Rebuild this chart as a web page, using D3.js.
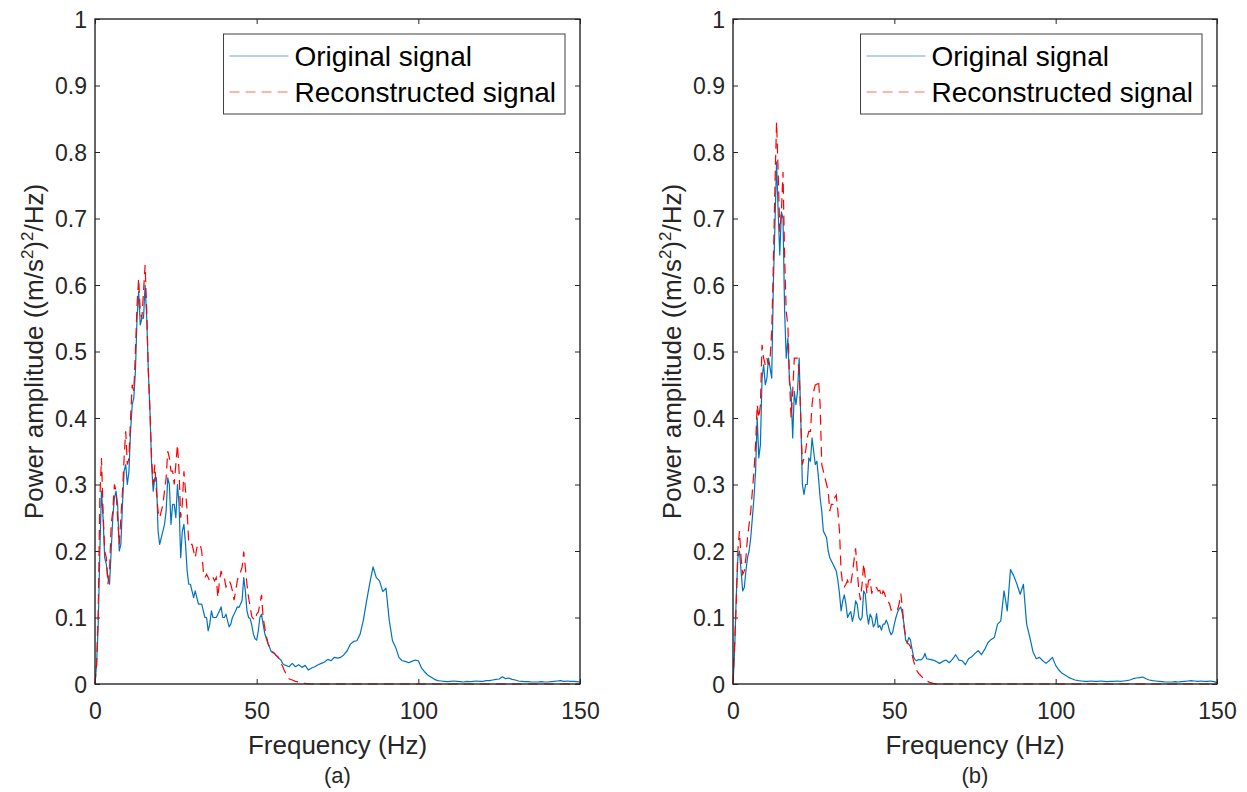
<!DOCTYPE html>
<html>
<head>
<meta charset="utf-8">
<script src="https://cdn.jsdelivr.net/npm/d3@7"></script>
<style>
  body { margin: 0; background: #fff; }
  text { font-family: "Liberation Sans", Arial, sans-serif; }
</style>
</head>
<body>
<div id="chart"></div>
<script>
// frequency bins (Hz): 0.5 Hz steps below 60 Hz, 1 Hz steps above
var freqLow = d3.range(0, 60, 0.5);
var freqHigh = d3.range(60, 151, 1);
var freq = freqLow.concat(freqHigh);

var xTicks = [0, 50, 100, 150];
var xTickLabels = ["0", "50", "100", "150"];
var yTicks = [0, 0.1, 0.2, 0.3, 0.4, 0.5, 0.6, 0.7, 0.8, 0.9, 1];
var yTickLabels = ["0", "0.1", "0.2", "0.3", "0.4", "0.5", "0.6", "0.7", "0.8", "0.9", "1"];
var seriesNames = ["Original signal", "Reconstructed signal"];

// panel (a)
var origA = [
  0, 0.03, 0.09, 0.20, 0.29, 0.25, 0.19, 0.18, 0.16, 0.15,
  0.20, 0.25, 0.28, 0.29, 0.27, 0.20, 0.21, 0.27, 0.32, 0.33,
  0.30, 0.32, 0.38, 0.42, 0.43, 0.47, 0.55, 0.59, 0.54, 0.55,
  0.55, 0.60, 0.55, 0.47, 0.41, 0.33, 0.29, 0.31, 0.31, 0.23,
  0.21, 0.22, 0.23, 0.24, 0.26, 0.31, 0.30, 0.24, 0.27, 0.27,
  0.25, 0.30, 0.27, 0.19, 0.23, 0.24, 0.21, 0.17, 0.15, 0.15,
  0.14, 0.13, 0.14, 0.13, 0.12, 0.12, 0.12, 0.11, 0.10, 0.10,
  0.08, 0.09, 0.11, 0.10, 0.10, 0.10, 0.105, 0.11, 0.116, 0.10,
  0.10, 0.105, 0.095, 0.086, 0.09, 0.10, 0.105, 0.11, 0.116, 0.115,
  0.12, 0.126, 0.16, 0.14, 0.11, 0.10, 0.098, 0.088, 0.075, 0.068,
  0.066, 0.08, 0.10, 0.105, 0.09, 0.076, 0.068, 0.061, 0.055, 0.049,
  0.047, 0.046, 0.043, 0.041, 0.038, 0.036, 0.031, 0.029, 0.028, 0.027,
  // 60 Hz ->
  0.026, 0.031, 0.026, 0.029, 0.025, 0.028, 0.021, 0.024, 0.026, 0.029,
  0.031, 0.033, 0.037, 0.035, 0.040, 0.039, 0.040, 0.044, 0.050, 0.060,
  0.064, 0.065, 0.075, 0.096, 0.125, 0.152, 0.176, 0.160, 0.155, 0.139,
  0.144, 0.096, 0.065, 0.055, 0.040, 0.035, 0.034, 0.032, 0.034, 0.036,
  0.035, 0.024, 0.018, 0.013, 0.010, 0.007, 0.005, 0.0045, 0.004, 0.0035,
  0.004, 0.0045, 0.004, 0.0035, 0.003, 0.004, 0.0035, 0.004, 0.0045, 0.004,
  0.004, 0.005, 0.005, 0.006, 0.007, 0.0075, 0.011, 0.008, 0.009, 0.007,
  0.006, 0.0045, 0.004, 0.0035, 0.0035, 0.003, 0.003, 0.003, 0.0035, 0.003,
  0.003, 0.0035, 0.004, 0.0045, 0.005, 0.004, 0.0045, 0.004, 0.004, 0.0035,
  0.003
];
var recA = [
  0, 0.03, 0.11, 0.28, 0.34, 0.26, 0.20, 0.19, 0.15, 0.17,
  0.24, 0.26, 0.30, 0.29, 0.25, 0.21, 0.25, 0.29, 0.34, 0.38,
  0.33, 0.34, 0.40, 0.45, 0.44, 0.50, 0.57, 0.61, 0.56, 0.55,
  0.59, 0.63, 0.56, 0.47, 0.41, 0.34, 0.30, 0.33, 0.29, 0.26,
  0.25, 0.26, 0.27, 0.29, 0.31, 0.35, 0.34, 0.32, 0.32, 0.30,
  0.33, 0.36, 0.32, 0.25, 0.27, 0.32, 0.29, 0.26, 0.21, 0.21,
  0.21, 0.20, 0.19, 0.205, 0.21, 0.21, 0.20, 0.17, 0.16, 0.165,
  0.16, 0.155, 0.16, 0.16, 0.155, 0.16, 0.13, 0.155, 0.17, 0.16,
  0.16, 0.146, 0.15, 0.155, 0.15, 0.14, 0.126, 0.14, 0.155, 0.165,
  0.168, 0.176, 0.199, 0.175, 0.15, 0.13, 0.116, 0.101, 0.098, 0.096,
  0.105, 0.108, 0.12, 0.134, 0.10, 0.085, 0.072, 0.061, 0.056, 0.051,
  0.048, 0.046, 0.043, 0.041, 0.036, 0.031, 0.027, 0.021, 0.016, 0.011,
  // 60 Hz ->
  0.008, 0.006, 0.004, 0.003, 0.0015, 0.0008, 0, 0, 0, 0,
  0, 0, 0, 0, 0, 0, 0, 0, 0, 0,
  0, 0, 0, 0, 0, 0, 0, 0, 0, 0,
  0, 0, 0, 0, 0, 0, 0, 0, 0, 0,
  0, 0, 0, 0, 0, 0, 0, 0, 0, 0,
  0, 0, 0, 0, 0, 0, 0, 0, 0, 0,
  0, 0, 0, 0, 0, 0, 0, 0, 0, 0,
  0, 0, 0, 0, 0, 0, 0, 0, 0, 0,
  0, 0, 0, 0, 0, 0, 0, 0, 0, 0,
  0
];

// panel (b)
var origB = [
  0, 0.05, 0.13, 0.19, 0.20, 0.17, 0.14, 0.145, 0.17, 0.19,
  0.20, 0.22, 0.25, 0.28, 0.32, 0.40, 0.34, 0.36, 0.46, 0.48,
  0.45, 0.46, 0.49, 0.475, 0.46, 0.60, 0.69, 0.785, 0.71, 0.645,
  0.71, 0.70, 0.56, 0.49, 0.52, 0.455, 0.44, 0.37, 0.44, 0.42,
  0.44, 0.49, 0.40, 0.30, 0.285, 0.30, 0.30, 0.34, 0.335, 0.37,
  0.35, 0.33, 0.335, 0.31, 0.28, 0.26, 0.23, 0.225, 0.22, 0.20,
  0.19, 0.185, 0.18, 0.175, 0.17, 0.156, 0.136, 0.11, 0.125, 0.134,
  0.12, 0.10, 0.105, 0.109, 0.094, 0.105, 0.125, 0.12, 0.10, 0.096,
  0.10, 0.14, 0.135, 0.106, 0.09, 0.105, 0.10, 0.086, 0.09, 0.106,
  0.085, 0.088, 0.081, 0.09, 0.09, 0.096, 0.09, 0.08, 0.074, 0.078,
  0.09, 0.10, 0.108, 0.113, 0.116, 0.106, 0.09, 0.066, 0.062, 0.07,
  0.066, 0.052, 0.04, 0.036, 0.035, 0.037, 0.036, 0.037, 0.04, 0.046,
  // 60 Hz ->
  0.038, 0.037, 0.036, 0.034, 0.031, 0.034, 0.036, 0.032, 0.037, 0.044,
  0.036, 0.035, 0.029, 0.038, 0.041, 0.046, 0.050, 0.044, 0.052, 0.062,
  0.067, 0.070, 0.090, 0.095, 0.140, 0.110, 0.172, 0.163, 0.150, 0.135,
  0.150, 0.090, 0.070, 0.048, 0.038, 0.040, 0.035, 0.031, 0.035, 0.040,
  0.028, 0.021, 0.016, 0.013, 0.010, 0.008, 0.006, 0.005, 0.0045, 0.004,
  0.004, 0.0045, 0.004, 0.004, 0.0045, 0.004, 0.0035, 0.004, 0.004, 0.0045,
  0.004, 0.0045, 0.005, 0.006, 0.008, 0.009, 0.0095, 0.0105, 0.008, 0.006,
  0.005, 0.0045, 0.004, 0.0035, 0.003, 0.003, 0.003, 0.0035, 0.003, 0.0035,
  0.004, 0.0045, 0.005, 0.0045, 0.004, 0.0045, 0.004, 0.004, 0.0045, 0.0035,
  0.002
];
var recB = [
  0, 0.06, 0.12, 0.20, 0.23, 0.19, 0.165, 0.17, 0.19, 0.22,
  0.24, 0.26, 0.29, 0.32, 0.36, 0.42, 0.40, 0.42, 0.51, 0.49,
  0.48, 0.49, 0.48, 0.49, 0.53, 0.63, 0.75, 0.845, 0.77, 0.68,
  0.71, 0.77, 0.64, 0.56, 0.54, 0.46, 0.40, 0.44, 0.49, 0.49,
  0.49, 0.47, 0.40, 0.33, 0.34, 0.35, 0.37, 0.38, 0.38, 0.42,
  0.44, 0.45, 0.45, 0.457, 0.42, 0.33, 0.32, 0.31, 0.30, 0.29,
  0.26, 0.27, 0.27, 0.28, 0.284, 0.26, 0.23, 0.17, 0.15, 0.146,
  0.15, 0.156, 0.148, 0.151, 0.166, 0.186, 0.204, 0.17, 0.141, 0.126,
  0.15, 0.181, 0.16, 0.136, 0.156, 0.157, 0.136, 0.145, 0.144, 0.145,
  0.14, 0.141, 0.131, 0.14, 0.136, 0.126, 0.124, 0.121, 0.111, 0.112,
  0.113, 0.114, 0.112, 0.121, 0.136, 0.115, 0.086, 0.071, 0.061, 0.06,
  0.056, 0.044, 0.034, 0.026, 0.02, 0.016, 0.0135, 0.011, 0.0085, 0.006,
  // 60 Hz ->
  0.0045, 0.0025, 0.001, 0, 0, 0, 0, 0, 0, 0,
  0, 0, 0, 0, 0, 0, 0, 0, 0, 0,
  0, 0, 0, 0, 0, 0, 0, 0, 0, 0,
  0, 0, 0, 0, 0, 0, 0, 0, 0, 0,
  0, 0, 0, 0, 0, 0, 0, 0, 0, 0,
  0, 0, 0, 0, 0, 0, 0, 0, 0, 0,
  0, 0, 0, 0, 0, 0, 0, 0, 0, 0,
  0, 0, 0, 0, 0, 0, 0, 0, 0, 0,
  0, 0, 0, 0, 0, 0, 0, 0, 0, 0,
  0
];

var panels = [
  { left: 95, width: 485, orig: origA, rec: recA, tag: "(a)" },
  { left: 733, width: 484, orig: origB, rec: recB, tag: "(b)" }
];

var marginTop = 19, height = 665;
var ink = "#262626";
var blue = "#0072BD", red = "#FF0000";

var svg = d3.select("#chart")
  .append("svg")
    .attr("width", 1247)
    .attr("height", 792);

panels.forEach(function(p) {
  var g = svg.append("g")
    .attr("transform", "translate(" + p.left + "," + marginTop + ")");

  var x = d3.scaleLinear().domain([0, 150]).range([0, p.width]);
  var y = d3.scaleLinear().domain([0, 1]).range([height, 0]);

  // axes (inward ticks on all four sides)
  var bottom = g.append("g")
    .attr("transform", "translate(0," + height + ")")
    .call(d3.axisBottom(x).tickValues(xTicks)
      .tickFormat(function(d, i) { return xTickLabels[i]; })
      .tickSizeInner(-5).tickSizeOuter(0).tickPadding(19));
  var left = g.append("g")
    .call(d3.axisLeft(y).tickValues(yTicks)
      .tickFormat(function(d, i) { return yTickLabels[i]; })
      .tickSizeInner(-5).tickSizeOuter(0).tickPadding(8));
  var topAx = g.append("g")
    .call(d3.axisTop(x).tickValues(xTicks).tickFormat("")
      .tickSizeInner(-5).tickSizeOuter(0));
  var right = g.append("g")
    .attr("transform", "translate(" + p.width + ",0)")
    .call(d3.axisRight(y).tickValues(yTicks).tickFormat("")
      .tickSizeInner(-5).tickSizeOuter(0));

  [bottom, left, topAx, right].forEach(function(a) {
    a.select(".domain").remove();
    a.selectAll(".tick line").attr("stroke", ink).attr("stroke-width", 1);
    a.selectAll(".tick text")
      .attr("fill", ink)
      .style("font-family", '"Liberation Sans", Arial, sans-serif')
      .style("font-size", "23px");
  });
  left.selectAll(".tick text").attr("dy", "0.36em");

  // data lines
  var line = d3.line()
    .x(function(d) { return x(d[0]); })
    .y(function(d) { return y(d[1]); });

  g.append("path")
    .datum(freq.map(function(f, i) { return [f, p.orig[i]]; }))
    .attr("fill", "none")
    .attr("stroke", blue)
    .attr("stroke-width", 1.2)
    .attr("stroke-linejoin", "round")
    .attr("d", line);

  g.append("path")
    .datum(freq.map(function(f, i) { return [f, p.rec[i]]; }))
    .attr("fill", "none")
    .attr("stroke", red)
    .attr("stroke-width", 1.2)
    .attr("stroke-dasharray", "10,6")
    .attr("d", line);

  // axes box
  g.append("rect")
    .attr("width", p.width)
    .attr("height", height)
    .attr("fill", "none")
    .attr("stroke", ink)
    .attr("stroke-width", 1.4);

  // legend
  var leg = g.append("g");
  var legBox = leg.append("rect")
    .attr("fill", "#fff")
    .attr("stroke", "#404040")
    .attr("stroke-width", 1);
  var rows = leg.selectAll(".row")
    .data(seriesNames)
    .enter().append("g")
      .attr("class", "row");
  rows.append("line")
    .attr("x1", 6).attr("x2", 65)
    .attr("stroke", function(d, i) { return i === 0 ? blue : red; })
    .attr("stroke-opacity", 0.6)
    .attr("stroke-width", 1.2)
    .attr("stroke-dasharray", function(d, i) { return i === 0 ? null : "10,6"; });
  rows.append("text")
    .attr("x", 71)
    .attr("dy", "0.35em")
    .attr("fill", "#000")
    .style("font-size", "28px")
    .text(function(d) { return d; });
  var textW = d3.max(rows.selectAll("text").nodes(), function(n) { return n.getComputedTextLength(); });
  var legW = 71 + textW + 9, legH = 80;
  legBox.attr("width", legW).attr("height", legH);
  rows.attr("transform", function(d, i) { return "translate(0," + (22 + i * 36) + ")"; });
  leg.attr("transform", "translate(" + (p.width - 15 - legW) + ",15)");

  // axis labels
  g.append("text")
    .attr("x", p.width / 2)
    .attr("y", 735)
    .attr("text-anchor", "middle")
    .attr("fill", ink)
    .style("font-size", "26px")
    .text("Frequency (Hz)");

  g.append("text")
    .attr("x", p.width / 2)
    .attr("y", 764)
    .attr("text-anchor", "middle")
    .attr("fill", ink)
    .style("font-size", "22px")
    .text(p.tag);

  var yl = g.append("text")
    .attr("transform", "translate(-52," + (height / 2) + ") rotate(-90)")
    .attr("text-anchor", "middle")
    .attr("fill", ink)
    .style("font-size", "26px");
  yl.append("tspan").text("Power amplitude ((m/s");
  yl.append("tspan").attr("dy", -10).style("font-size", "17px").text("2");
  yl.append("tspan").attr("dy", 10).text(")");
  yl.append("tspan").attr("dy", -10).style("font-size", "17px").text("2");
  yl.append("tspan").attr("dy", 10).text("/Hz)");
});
</script>
</body>
</html>
